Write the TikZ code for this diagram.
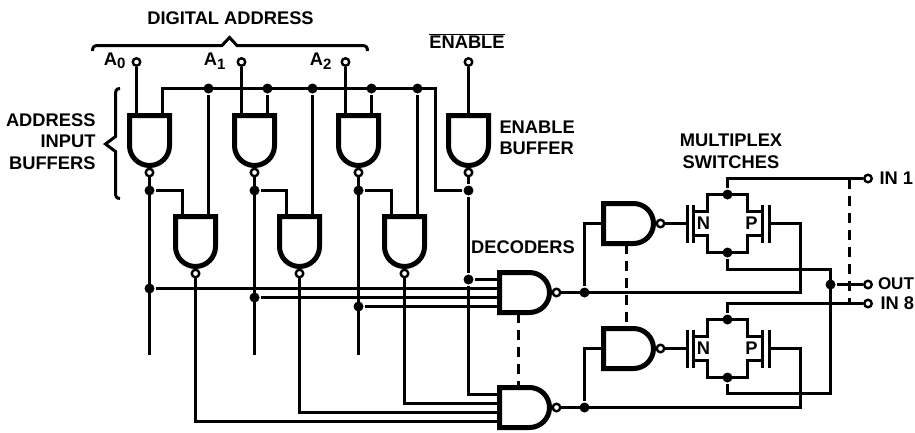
\documentclass[tikz,border=0pt]{standalone}
\usepackage{fontspec}
\setmainfont{Liberation Sans}
\usepackage{tikz}
\usetikzlibrary{calc}

\newcommand{\subnum}[1]{\raisebox{-3.5pt}{\fontsize{15}{15}\selectfont #1}}

\tikzset{
  lbl/.style = {font=\fontsize{18.3}{21.5}\selectfont\bfseries, inner sep=0pt},
  dot/.style = {circle, fill=black, inner sep=0pt, minimum size=10pt},
  bubble/.style = {circle, draw, fill=white, line width=2.4pt, inner sep=0pt, minimum size=7.5pt},
  term/.style = {circle, draw, fill=white, line width=2.4pt, inner sep=0pt, minimum size=7.5pt},
  dash wire/.style = {dash pattern=on 10pt off 7pt},
  pics/gate/.style = {code = {
    \draw[line width=5pt, fill=white] (-20,0) -- (20,0) -- (20,30) arc (0:180:20) -- cycle;
    \node[bubble] (-o) at (0,57) {};
    \coordinate (-a) at (-13,0);
    \coordinate (-b) at (13,0);
    \coordinate (-c) at (0,0);
    \coordinate (-p) at (13,0);
    \coordinate (-q) at (4,0);
    \coordinate (-r) at (-5,0);
    \coordinate (-s) at (-14,0);
    \coordinate (-lo) at (-20,19);
    \coordinate (-hi) at (20,19);
    \coordinate (-lt) at (-20,23);
    \coordinate (-ht) at (20,23);
  }},
  pics/switch/.style = {code = {
    \draw (-34,-12) -- (-20,-12) -- (-20,-29) -- (20,-29) -- (20,-12) -- (35,-12);
    \draw (-34,12) -- (-20,12) -- (-20,29) -- (20,29) -- (20,12) -- (35,12);
    \draw (-40,-19) -- (-40,19);
    \draw (-34,-19) -- (-34,19);
    \draw (35,-19) -- (35,19);
    \draw (42,-19) -- (42,19);
    \node[dot] (-t) at (0,-29) {};
    \node[dot] (-u) at (0,29) {};
    \coordinate (-g) at (-40,0);
    \coordinate (-h) at (42,0);
    \node[lbl] (-n) at (-24,0) {N};
    \node[lbl] (-m) at (24,0) {P};
  }}
}

\begin{document}
\begin{tikzpicture}[x = 1pt, y = -1pt, line width = 3pt]
\pgfmathsetmacro{\rail}{88.5}
\pgfmathsetmacro{\tap}{190.5}
\pgfmathsetmacro{\stub}{355}
\useasboundingbox (0,0) rectangle (915,432);

% gates
\foreach \n/\x in {ba/149.5, bb/254.5, bc/358.5, be/468.5} {
  \pic (\n) at (\x,115.5) {gate};
}
\foreach \n/\x in {ia/195.5, ib/299.5, ic/404.5} {
  \pic (\n) at (\x,216.5) {gate};
}
\pic[rotate=90] (dec1) at (499.5,292.5) {gate};
\pic[rotate=90] (dec2) at (499.5,407.5) {gate};
\pic[rotate=90] (mg1) at (603.5,223.5) {gate};
\pic[rotate=90] (mg2) at (603.5,348.5) {gate};
\pic (sw1) at (727.5,223.5) {switch};
\pic (sw2) at (727.5,348.5) {switch};

% terminals
\foreach \n/\x/\y in {a0/136.5/62, a1/241.5/62, a2/345.5/62, en/468.5/62, in1/868/178.5, out/868/284.5, in8/868/303.5} {
  \node[term] (\n) at (\x,\y) {};
}
\coordinate (rl) at (435.5,\rail);
\foreach \n in {ia, bb, ib, bc, ic} {
  \node[dot] (r\n) at (\n-b |- rl) {};
  \draw (r\n) -- (\n-b);
}
\draw (a0) -- (ba-a);
\draw (a1) -- (bb-a);
\draw (a2) -- (bc-a);
\draw (en) -- (be-c);

% buffers to decoders
\node[dot] (fe) at (468.5,\tap) {};
\draw (ba-b) |- (rl) |- (fe);
\draw (be-o) -- (fe);
\foreach \n/\i/\j/\p in {ba/ia/bb/q, bb/ib/bc/r, bc/ic/be/s} {
  \node[dot] (t\n) at (\n-o |- 0,\tap) {};
  \node[dot] (j\n) at (\n-o |- dec1-\p) {};
  \coordinate (e\n) at (\n-o |- 0,\stub);
  \draw (\n-o) -- (e\n);
  \draw (t\n) -| (\i-a);
  \draw (j\n) -- (dec1-\p);
}
\node[dot] (je) at (be-o |- dec1-p) {};
\draw (fe) -- (je) -- (dec1-p);
\draw (je) |- (dec2-p);
\draw (ic-o) |- (dec2-q);
\draw (ib-o) |- (dec2-r);
\draw (ia-o) |- (dec2-s);

% decoders to switches
\coordinate (ca) at (800.5,292.5);
\coordinate (cb) at (800.5,407.5);
\node[dot] (ga) at (584.5,292.5) {};
\node[dot] (gb) at (584.5,407.5) {};
\draw (dec1-o) -- (ca) |- (sw1-h);
\draw (dec2-o) -- (cb) |- (sw2-h);
\draw (ga) |- (mg1-c);
\draw (gb) |- (mg2-c);
\draw (mg1-o) -- (sw1-g);
\draw (mg2-o) -- (sw2-g);
\coordinate (co) at (830.5,269.5);
\coordinate (cu) at (830.5,393.5);
\node[dot] (jo) at (830.5,284.5) {};
\draw (sw1-u) |- (co) -- (cu) -| (sw2-u);
\draw (jo) -- (out);
\draw (sw1-t) |- (in1);
\draw (sw2-t) |- (in8);
\coordinate (ta) at (849.5,178.5);
\coordinate (tb) at (849.5,303.5);
\draw[dash wire] (dec1-lo) -- (dec2-hi);
\draw[dash wire] (mg1-lt) -- (mg2-ht);
\draw[dash wire] (ta) -- (tb);

% braces
\draw (92.5,51) .. controls (92.5,47) and (94,45.5) .. (98,45.5) -- (222,45.5) -- (229.5,37.5) -- (237,45.5) -- (362,45.5) .. controls (366,45.5) and (367.5,47) .. (367.5,51);
\draw (120,88.5) .. controls (116,88.5) and (115.5,91) .. (115.5,95) -- (115.5,136.5) -- (105.5,144) -- (115.5,151.5) -- (115.5,192) .. controls (115.5,196) and (116,198.5) .. (120,198.5);

% labels
\node[lbl] (ldig) at (230.5,18) {DIGITAL ADDRESS};
\node[lbl, anchor=east] (la0) at (127,61) {A\subnum{0}};
\node[lbl, anchor=east] (la1) at (227,61) {A\subnum{1}};
\node[lbl, anchor=east] (la2) at (333,61) {A\subnum{2}};
\node[lbl] (len) at (467,41) {$\overline{\mbox{\bfseries ENABLE}}$};
\node[lbl, align=right, anchor=east] (lbuf) at (97,141.5) {ADDRESS\\INPUT\\BUFFERS};
\node[lbl, align=left, anchor=west] (lenb) at (498,138) {ENABLE\\BUFFER};
\node[lbl, align=center] (lmux) at (731,151.5) {MULTIPLEX\\SWITCHES};
\node[lbl] (ldec) at (523,247) {DECODERS};
\node[lbl, anchor=west] (lin1) at (878,178) {IN 1};
\node[lbl, anchor=west, font=\fontsize{17}{20}\selectfont\bfseries] (lout) at (876.5,284) {OUT};
\node[lbl, anchor=west] (lin8) at (879,303) {IN 8};
\end{tikzpicture}
\end{document}
